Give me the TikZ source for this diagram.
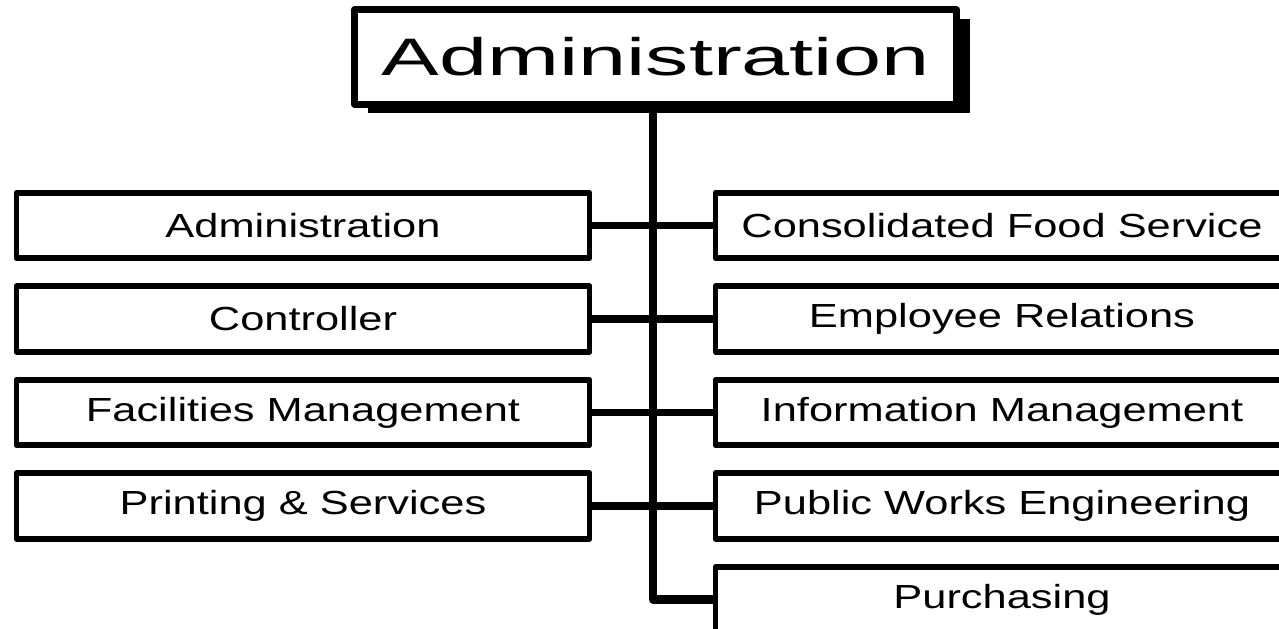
\documentclass[tikz,border=0pt]{standalone}
\usepackage{fontspec}
\usepackage{xcolor}
\usetikzlibrary{shadows}
\setmainfont{Liberation Sans}
\newfontfamily\headfont[FakeStretch=1.64]{Liberation Sans}
\newfontfamily\unitfont[FakeStretch=1.3]{Liberation Sans}
\definecolor{inkBlack}{RGB}{0,0,0}

\begin{document}
\begin{tikzpicture}[
  headBox/.style={
    draw=inkBlack,
    fill=white,
    line width=2pt,
    line join=round,
    minimum width=6.02cm,
    minimum height=0.945cm,
    inner sep=0pt,
    font=\headfont\fontsize{15}{17}\selectfont,
    drop shadow={shadow xshift=0.13cm, shadow yshift=-0.09cm, fill=inkBlack, opacity=1},
  },
  unitBox/.style={
    draw=inkBlack,
    fill=white,
    line width=1.7pt,
    line join=round,
    minimum width=5.73cm,
    minimum height=0.655cm,
    inner sep=0pt,
    font=\unitfont\fontsize{9.5}{11}\selectfont,
  },
  link/.style={draw=inkBlack, line width=2.1pt},
  spineLine/.style={draw=inkBlack, line width=2.3pt, line join=round},
]
  \useasboundingbox (0,0) rectangle (12.79,-6.28);
  \clip (0,0) rectangle (12.79,-6.28);

  \node[headBox] (head) at (6.555,-0.57) {Administration};
  \coordinate (spine) at (6.53,-5.995);

  \foreach \label [count=\row] in {Administration, Controller, Facilities Management, Printing \& Services}
  {
    \node[unitBox] (left\row) at (3.03, {-2.255-0.935*(\row-1)}) {\label};
  }
  \foreach \label [count=\row] in {Consolidated Food Service, Employee Relations, Information Management, Public Works Engineering, Purchasing}
  {
    \node[unitBox] (right\row) at (10.02, {-2.255-0.935*(\row-1)}) {\label};
  }

  \draw[spineLine] (head.south -| spine) -- (spine) -- (right5.west);
  \foreach \row in {1, ..., 4}
  {
    \draw[link] (left\row) -- (right\row);
  }
\end{tikzpicture}
\end{document}
